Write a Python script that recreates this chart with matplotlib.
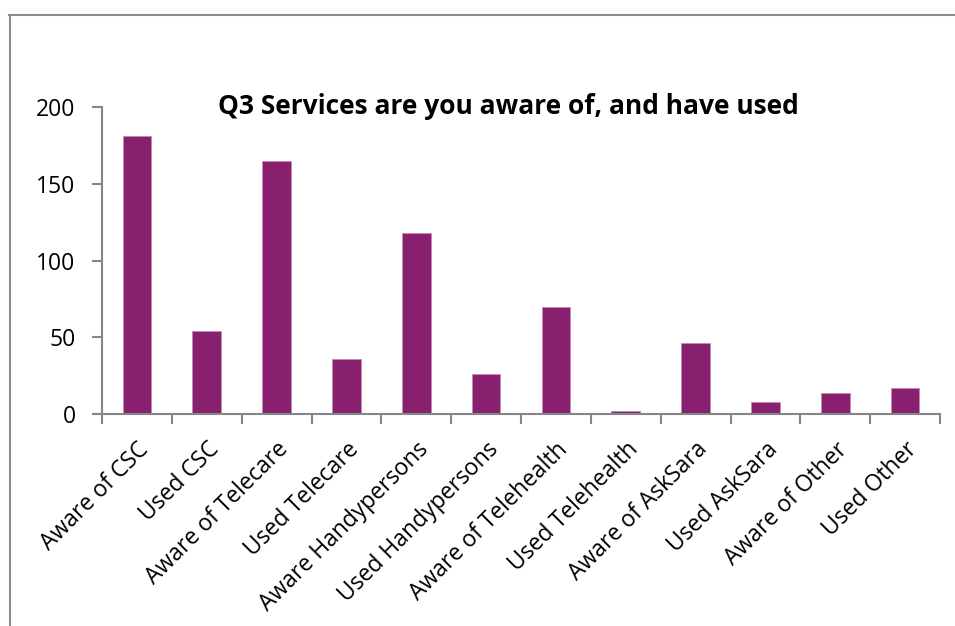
import matplotlib
matplotlib.use("Agg")
import matplotlib.pyplot as plt
from matplotlib.lines import Line2D
import numpy as np

categories = ["Aware of CSC", "Used CSC", "Aware of Telecare", "Used Telecare",
              "Aware Handypersons", "Used Handypersons", "Aware of Telehealth",
              "Used Telehealth", "Aware of AskSara", "Used AskSara",
              "Aware of Other", "Used Other"]
counts = [181, 54, 165, 36, 118, 26, 70, 2, 46, 8, 14, 17]
yticks = [0, 50, 100, 150, 200]

plt.rcParams['font.family'] = ['Open Sans', 'DejaVu Sans']
axis_grey = '#868686'

W, H = 955, 626
fig = plt.figure(figsize=(W / 100, H / 100), dpi=100)
ax = fig.add_axes([102 / W, 1 - 414 / H, (940 - 102) / W, (414 - 107) / H])

x = np.arange(len(categories))
ax.bar(x, counts, width=0.41, color='#88206F', edgecolor='#C48AB4', linewidth=0.6, zorder=2)

ax.set_xlim(-0.5, len(categories) - 0.5)
ax.set_ylim(0, 200)
ax.set_yticks(yticks)
ax.set_yticklabels([str(v) for v in yticks], fontsize=16.5)

ax.set_xticks(x)
ax.set_xticklabels(categories, rotation=45, ha='right', rotation_mode='anchor', fontsize=16.5)
ax.tick_params(axis='x', length=0, pad=17)
ax.set_xticks(np.arange(-0.5, len(categories)), minor=True)
ax.tick_params(axis='x', which='minor', length=7, width=1.5, color=axis_grey)
ax.tick_params(axis='y', length=7, width=1.5, color=axis_grey, pad=12)

for s in ['top', 'right']:
    ax.spines[s].set_visible(False)
for s in ['left', 'bottom']:
    ax.spines[s].set_color(axis_grey)
    ax.spines[s].set_linewidth(1.5)

ax.text(0.485, 1.0, "Q3 Services are you aware of, and have used", transform=ax.transAxes,
        ha='center', va='center', fontsize=19, fontweight='bold')

# chart area frame (top and left edges)
fig.add_artist(Line2D([9 / W, 1], [1 - 14.5 / H, 1 - 14.5 / H], color='#8C8C8C', lw=1.5))
fig.add_artist(Line2D([9.5 / W, 9.5 / W], [0, 1 - 14.5 / H], color='#8C8C8C', lw=1.5))

fig.savefig("out.png", dpi=100)
